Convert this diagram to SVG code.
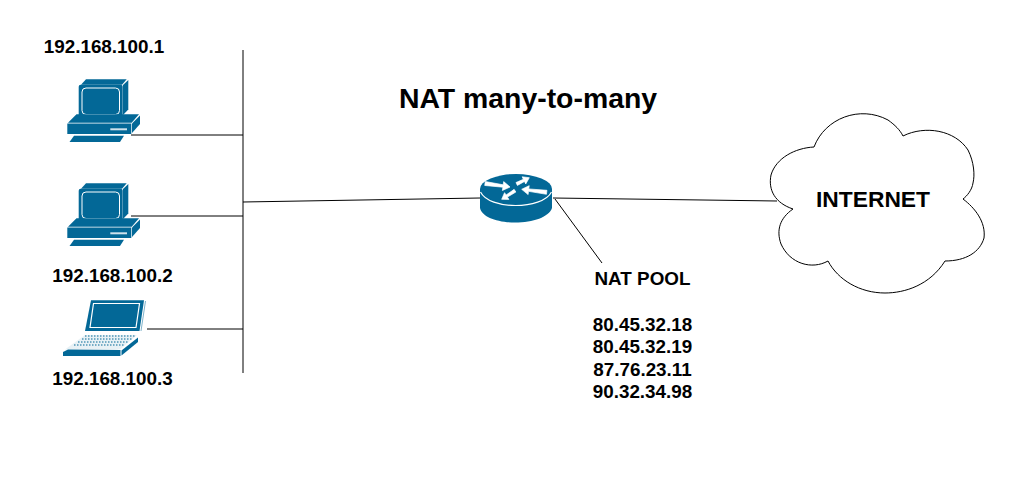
<svg xmlns="http://www.w3.org/2000/svg" width="1029" height="477" viewBox="0 0 1029 477">
<style>
.t{font-family:"Liberation Sans",Arial,sans-serif;font-weight:700;fill:#000;text-anchor:middle}
.s{font-size:18.85px}
.l{fill:none;stroke:#000;stroke-width:1}
.b{fill:#036897}
.w{fill:none;stroke:#fff}
</style>
<defs>
<g id="pc">
<path class="b" d="M81 84.700L86 79.300H126.700L122 84.700Z"/>
<path class="b" d="M123 85L128.300 80V109.500L123 115Z"/>
<rect class="b" x="78.700" y="84.700" width="44" height="32.700" rx="2"/>
<rect class="w" x="82" y="88" width="37.500" height="26.500" rx="4" stroke-width="1"/>
<path class="b" d="M68 122.700L76.500 114.300H139L131.700 122.700Z"/>
<path class="b" d="M132 123.500L140 115.500V124L132 133Z"/>
<rect class="b" x="67.300" y="123.500" width="64" height="10.500"/>
<rect x="110.300" y="128.300" width="16.700" height="2" fill="#cfe2ec"/>
<path class="b" d="M74 135.700H124L120 142H69.500Z"/>
</g>
</defs>
<g id="connectors">
<path class="l" d="M243 50V373"/>
<path class="l" d="M131 135H243M131 216H243M147 329H243"/>
<path class="l" d="M243 202L480 198"/>
<path class="l" d="M553 198L777 201"/>
<path class="l" d="M555 199L602 263"/>
</g>
<g id="title"><text class="t" x="528" y="108" font-size="28.400">NAT many-to-many</text></g>
<g id="pc1"><text class="t s" x="104" y="53">192.168.100.1</text><use href="#pc"/></g>
<g id="pc2"><use href="#pc" y="104"/><text class="t s" x="112.500" y="282">192.168.100.2</text></g>
<g id="laptop">
<path class="b" d="M91 300.300H144L139.500 331H85Z"/>
<path d="M93.500 303.500H139.500L136 327.500H90Z" fill="#036897" stroke="#fff" stroke-width="1.200"/>
<path d="M145.500 301L141 331" fill="none" stroke="#7fb3cb" stroke-width="1"/>
<path d="M85 335H137L120 349.500H65Z" fill="#e8f1f5"/>
<path d="M85 336H136M82 339H133M78 342H129M74 345H124" stroke="#036897" stroke-width="1" stroke-dasharray="1.500 1.500" fill="none"/>
<path class="b" d="M68 349.500L63 352V356H120.500V350Z"/>
<path class="b" d="M121.500 350.500L138 337.500V342L121.500 355.500Z"/>
<text class="t s" x="112.500" y="385">192.168.100.3</text>
</g>
<g id="router">
<path class="b" d="M480 189V208C482 217 497 222.500 515 222.500C533 222.500 549 217 552 208V189Z"/>
<ellipse class="b" cx="516" cy="189" rx="36" ry="15"/>
<path d="M480.500 192C485 201 500 205.500 515.500 205.500C531 205.500 547 201 551.500 192" fill="none" stroke="#fff" stroke-width="1.200"/>
<path d="M484.720 185.480L502.900 187.200L502.400 190.500L510 187L503.700 181.600L503.200 184.800L485.280 181.520ZM546.940 190.310L528.790 188.940L529.190 185.660L521.700 189.300L528.110 194.600L528.510 191.320L546.460 194.290ZM517.420 185.430L524.480 181.450L525.730 183.960L529.300 177.700L522.150 176.800L523.400 179.310L515.980 182.570ZM515.870 192.040L507.390 197.050L508.910 199.400L501.700 199.300L504.570 192.680L506.090 195.030L514.130 189.360Z" fill="#fff" stroke="#fff" stroke-width="0.700"/>
</g>
<g id="cloud">
<path d="M814 147C825 118 860 105 888 120C895 125 900 130 903 136C925 125 955 130 968 150C974 162 975 175 973 183C972 190 967 196 963 199C975 208 986 222 984 238C980 252 966 261 945 261C930 285 905 293 885 293C860 293 838 280 828 261C812 270 790 264 781 244C776 230 780 218 793 209C775 203 768 190 771 175C776 158 795 148 814 147Z" fill="#fff" stroke="#000" stroke-width="1"/>
<text class="t" x="873" y="207" font-size="22.800">INTERNET</text>
</g>
<g id="natpool">
<text class="t s" x="642.500" y="285">NAT POOL</text>
<text class="t s" x="642.500" y="331">80.45.32.18</text>
<text class="t s" x="642.500" y="353">80.45.32.19</text>
<text class="t s" x="642.500" y="376">87.76.23.11</text>
<text class="t s" x="642.500" y="398">90.32.34.98</text>
</g>
</svg>
